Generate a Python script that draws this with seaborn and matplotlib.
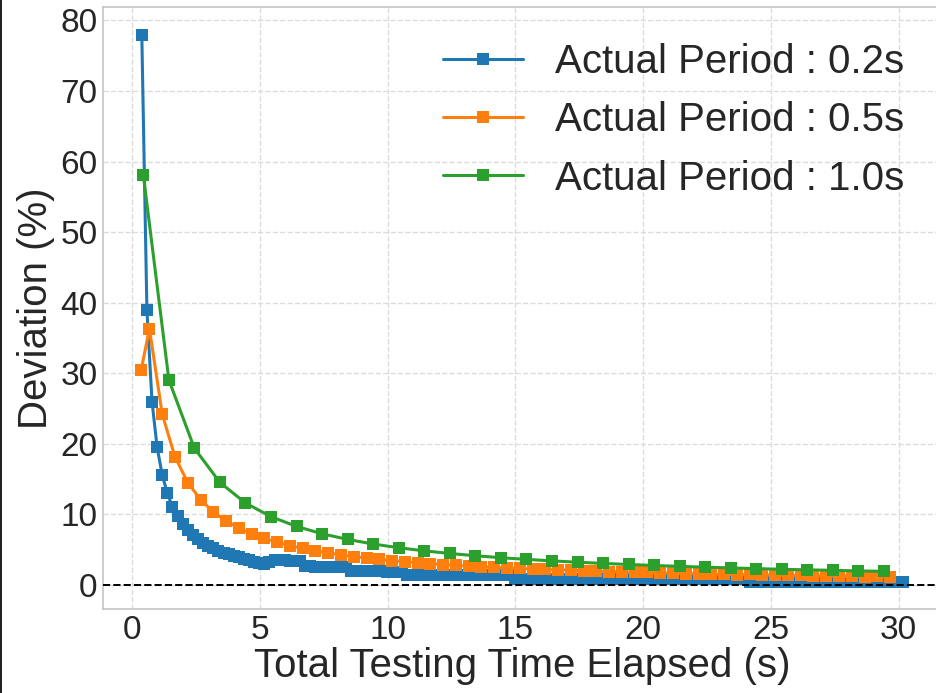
import pandas as pd
import seaborn as sns
import matplotlib.pyplot as plt

# --- data ---
labels = ['Actual Period : 0.2s', 'Actual Period : 0.5s', 'Actual Period : 1.0s']
colors = ['#1f77b4', '#ff7f0e', '#2ca02c']

time_02 = [
    0.37, 0.57, 0.77, 0.97, 1.17, 1.37, 1.57, 1.77, 1.97, 2.17,
    2.37, 2.57, 2.77, 2.97, 3.17, 3.37, 3.57, 3.77, 3.97, 4.17,
    4.37, 4.57, 4.77, 4.97, 5.17, 5.37, 5.57, 5.77, 5.97, 6.17,
    6.37, 6.57, 6.77, 6.97, 7.17, 7.37, 7.57, 7.77, 7.97, 8.17,
    8.37, 8.57, 8.77, 8.97, 9.17, 9.37, 9.57, 9.77, 9.97, 10.17,
    10.37, 10.57, 10.77, 10.97, 11.17, 11.37, 11.57, 11.77, 11.97, 12.17,
    12.37, 12.57, 12.77, 12.97, 13.17, 13.37, 13.57, 13.77, 13.97, 14.17,
    14.37, 14.57, 14.77, 14.97, 15.17, 15.37, 15.57, 15.77, 15.97, 16.17,
    16.37, 16.57, 16.77, 16.97, 17.17, 17.37, 17.57, 17.77, 17.97, 18.17,
    18.37, 18.57, 18.77, 18.97, 19.17, 19.37, 19.57, 19.77, 19.97, 20.17,
    20.37, 20.57, 20.77, 20.97, 21.17, 21.37, 21.57, 21.77, 21.97, 22.17,
    22.37, 22.57, 22.77, 22.97, 23.17, 23.37, 23.57, 23.77, 23.97, 24.17,
    24.37, 24.57, 24.77, 24.97, 25.17, 25.37, 25.57, 25.77, 25.97, 26.17,
    26.37, 26.57, 26.77, 26.97, 27.17, 27.37, 27.57, 27.77, 27.97, 28.17,
    28.37, 28.57, 28.77, 28.97, 29.17, 29.37, 29.57, 29.77, 29.97, 30.17,
]
dev_02 = [
    78.0, 39.0, 26.0, 19.5, 15.6, 13.0, 11.1, 9.75, 8.67, 7.8,
    7.09, 6.5, 6.0, 5.57, 5.2, 4.88, 4.59, 4.33, 4.11, 3.9,
    3.7, 3.5, 3.3, 3.1, 3.0, 3.3, 3.6, 3.5, 3.5, 3.4,
    3.4, 3.4, 2.7, 2.7, 2.6, 2.6, 2.6, 2.6, 2.6, 2.5,
    2.5, 2.0, 2.0, 2.0, 2.0, 2.0, 2.0, 2.0, 1.9, 1.9,
    1.9, 1.9, 1.4, 1.4, 1.4, 1.4, 1.4, 1.4, 1.4, 1.4,
    1.4, 1.4, 1.4, 1.4, 1.4, 1.4, 1.4, 1.4, 1.4, 1.4,
    1.4, 1.4, 1.4, 0.9, 0.9, 0.9, 0.9, 0.9, 0.9, 0.9,
    0.9, 0.9, 0.9, 0.9, 0.9, 0.9, 0.9, 0.9, 0.9, 0.9,
    0.9, 0.9, 0.9, 0.9, 0.9, 0.9, 0.9, 0.9, 0.9, 0.9,
    0.9, 0.9, 0.9, 0.9, 0.9, 0.9, 0.9, 0.9, 0.9, 0.9,
    0.9, 0.9, 0.9, 0.9, 0.9, 0.9, 0.9, 0.9, 0.9, 0.45,
    0.45, 0.45, 0.45, 0.45, 0.45, 0.45, 0.45, 0.45, 0.45, 0.45,
    0.45, 0.45, 0.45, 0.45, 0.45, 0.45, 0.45, 0.45, 0.45, 0.45,
    0.45, 0.45, 0.45, 0.45, 0.45, 0.45, 0.45, 0.45, 0.45, 0.45,
]

time_05 = [
    0.34, 0.67, 1.17, 1.67, 2.17, 2.67, 3.17, 3.67, 4.17, 4.67,
    5.17, 5.67, 6.17, 6.67, 7.17, 7.67, 8.17, 8.67, 9.17, 9.67,
    10.17, 10.67, 11.17, 11.67, 12.17, 12.67, 13.17, 13.67, 14.17, 14.67,
    15.17, 15.67, 16.17, 16.67, 17.17, 17.67, 18.17, 18.67, 19.17, 19.67,
    20.17, 20.67, 21.17, 21.67, 22.17, 22.67, 23.17, 23.67, 24.17, 24.67,
    25.17, 25.67, 26.17, 26.67, 27.17, 27.67, 28.17, 28.67, 29.17, 29.67,
]
dev_05 = [
    30.4, 36.3, 24.2, 18.15, 14.52, 12.1, 10.37, 9.08, 8.07, 7.26,
    6.6, 6.05, 5.58, 5.19, 4.84, 4.54, 4.27, 4.03, 3.82, 3.63,
    3.46, 3.3, 3.16, 3.03, 2.9, 2.79, 2.69, 2.59, 2.5, 2.42,
    2.34, 2.27, 2.2, 2.12, 2.09, 2.0, 1.98, 1.88, 1.88, 1.78,
    1.8, 1.7, 1.72, 1.6, 1.63, 1.53, 1.56, 1.47, 1.5, 1.41,
    1.44, 1.36, 1.38, 1.3, 1.33, 1.25, 1.28, 1.2, 1.23, 1.15,
]

time_10 = [
    0.43, 1.43, 2.43, 3.43, 4.43, 5.43, 6.43, 7.43, 8.43, 9.43,
    10.43, 11.43, 12.43, 13.43, 14.43, 15.43, 16.43, 17.43, 18.43, 19.43,
    20.43, 21.43, 22.43, 23.43, 24.43, 25.43, 26.43, 27.43, 28.43, 29.43,
]
dev_10 = [
    58.1, 29.05, 19.37, 14.53, 11.62, 9.68, 8.3, 7.26, 6.46, 5.81,
    5.28, 4.84, 4.47, 4.15, 3.87, 3.63, 3.42, 3.23, 3.06, 2.91,
    2.77, 2.64, 2.53, 2.42, 2.32, 2.23, 2.15, 2.08, 2.0, 1.94,
]

df = pd.concat([
    pd.DataFrame({'time': time_02, 'dev': dev_02, 'period': labels[0]}),
    pd.DataFrame({'time': time_05, 'dev': dev_05, 'period': labels[1]}),
    pd.DataFrame({'time': time_10, 'dev': dev_10, 'period': labels[2]}),
], ignore_index=True)

# --- style ---
sns.set_theme(style='whitegrid', rc={
    'grid.linestyle': '--',
    'grid.color': '#dcdcdc',
    'grid.linewidth': 1.0,
    'axes.edgecolor': '#c8c8c8',
    'axes.linewidth': 1.25,
})
plt.rcParams['font.family'] = ['Liberation Sans', 'DejaVu Sans']

fig = plt.figure(figsize=(9.37, 6.93), dpi=100)
ax = fig.add_axes([0.1099, 0.1212, 0.8943, 0.8687])

sns.lineplot(data=df, x='time', y='dev', hue='period', hue_order=labels,
             palette=colors, marker='s', markersize=9, markeredgewidth=0,
             linewidth=2.2, sort=False, legend=False, ax=ax)

handles = list(ax.lines[:3])
ax.axhline(0, color='black', linestyle='--', linewidth=1.4, zorder=5)

ax.set_xlim(-1.15, 31.66)
ax.set_ylim(-3.4, 81.9)
ax.set_xticks(range(0, 31, 5))
ax.set_yticks(range(0, 81, 10))
ax.tick_params(axis='both', labelsize=24, colors='#262626', length=0, pad=4)
ax.set_xlabel('Total Testing Time Elapsed (s)', fontsize=29, color='#262626', labelpad=1)
ax.set_ylabel('Deviation (%)', fontsize=29, color='#262626', labelpad=4)

ax.legend(handles, labels, loc='upper right', fontsize=29, frameon=False,
          handlelength=2.0, labelspacing=0.5)

# thin dark edge on the left of the image
fig.add_artist(plt.Rectangle((0, 0), 2 / 937, 1, transform=fig.transFigure,
                             color='#222222', lw=0))

fig.savefig('out.png', dpi=100)
